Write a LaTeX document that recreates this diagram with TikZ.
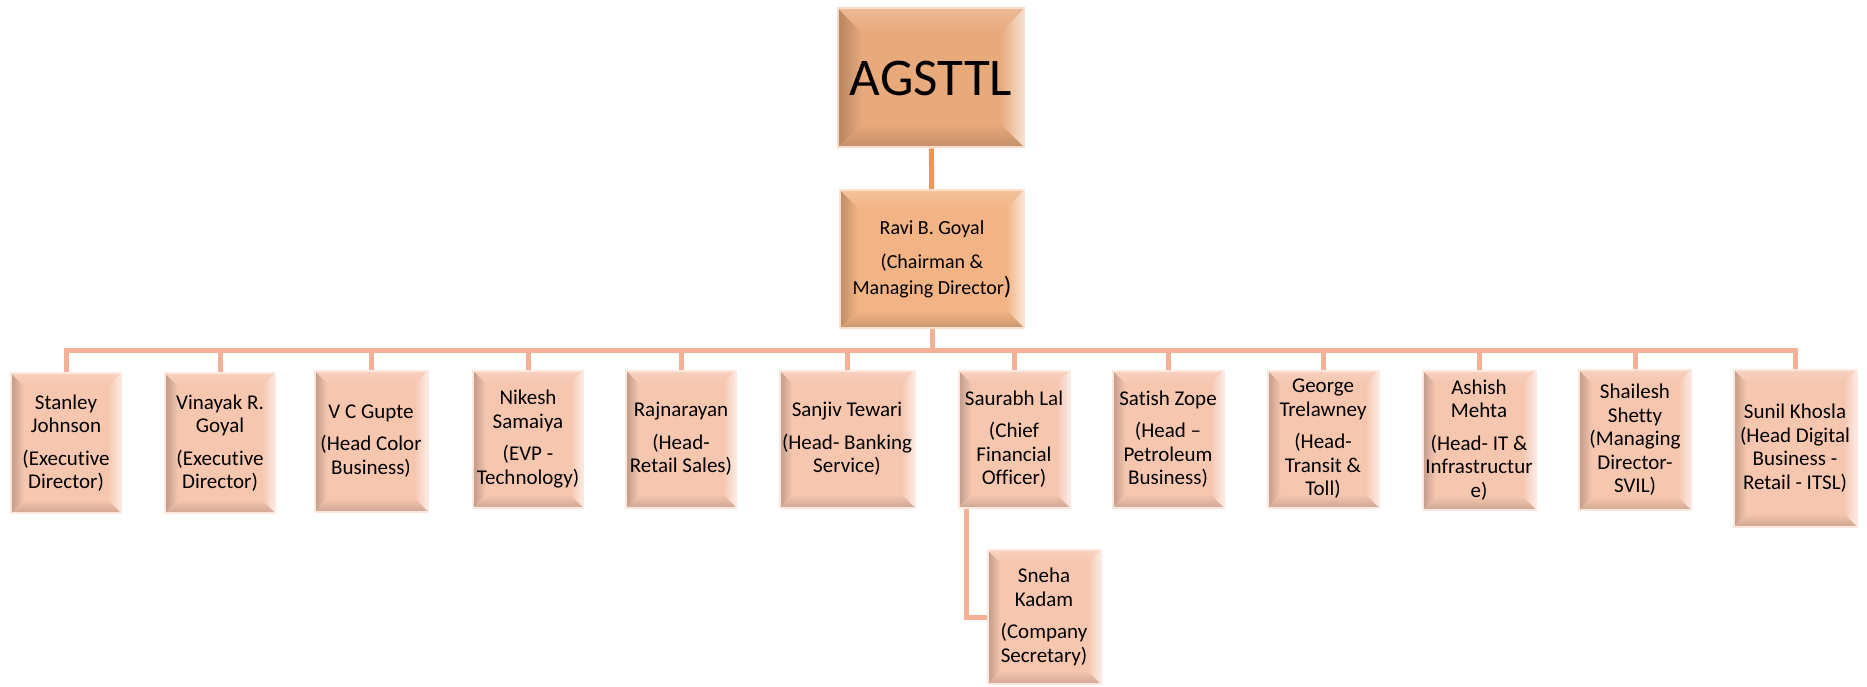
\documentclass[tikz,border=0pt]{standalone}
\usepackage{fontspec}
\setmainfont{Carlito}[Ligatures={TeX,NoCommon}]
\usetikzlibrary{calc}

\definecolor{rootfill}{HTML}{E8A97B}
\definecolor{headfill}{HTML}{F2B484}
\definecolor{kidfill}{HTML}{F6C6AF}
\definecolor{rootlink}{HTML}{F0955A}
\definecolor{buslink}{HTML}{F5B196}

\tikzset{
  bevel/.style 2 args={fill=#1, draw=#1!40!white, line width=2pt, inner sep=0pt, align=center,
    path picture={
      \coordinate (bA) at (path picture bounding box.north west);
      \coordinate (bB) at (path picture bounding box.north east);
      \coordinate (bC) at (path picture bounding box.south east);
      \coordinate (bD) at (path picture bounding box.south west);
      \coordinate (iA) at ($(bA)+(#2,#2)$);
      \coordinate (iB) at ($(bB)+(-#2,#2)$);
      \coordinate (iC) at ($(bC)+(-#2,-#2)$);
      \coordinate (iD) at ($(bD)+(#2,-#2)$);
      \shade[left color=#1!78!black, right color=#1] (bA) -- (iA) -- (iD) -- (bD) -- cycle;
      \shade[top color=#1!80!white, bottom color=#1] (bA) -- (bB) -- (iB) -- (iA) -- cycle;
      \shade[left color=#1, right color=#1!35!white] (bB) -- (bC) -- (iC) -- (iB) -- cycle;
      \shade[top color=#1, bottom color=#1!84!black] (bD) -- (bC) -- (iC) -- (iD) -- cycle;
    }},
  kidbox/.style={bevel={kidfill}{13}, minimum width=110pt, minimum height=137pt,
    font=\fontsize{21}{23.5}\selectfont},
  toplink/.style={draw=rootlink, line width=5pt},
  kidlink/.style={draw=buslink, line width=5pt}
}

\begin{document}
\begin{tikzpicture}[x=1pt, y=-1pt]
  % --- 1. Canvas ---
  \useasboundingbox (0,0) rectangle (1867,687);
  \def\gap{9pt}
  % --- 2. Top of the chart ---
  \node[bevel={rootfill}{24}, minimum width=186pt, minimum height=139pt,
        font=\fontsize{53}{60}\selectfont] (agsttl) at (931,78) {AGSTTL};
  \node[bevel={headfill}{18}, minimum width=184pt, minimum height=138pt,
        font=\fontsize{20}{26}\selectfont] (ravi) at (932,259)
        {Ravi B. Goyal\\[8pt](Chairman \&\\Managing Director{\fontsize{25}{26}\selectfont)}};
  % --- 3. Reports ---
  \node[kidbox, minimum height=140pt] (stanley) at (66,443) {Stanley\\Johnson\\[\gap](Executive\\Director)};
  \node[kidbox, minimum height=140pt] (vinayak) at (220,443) {Vinayak R.\\Goyal\\[\gap](Executive\\Director)};
  \node[kidbox, minimum width=113pt, minimum height=141pt] (gupte) at (371,441) {V C Gupte\\[\gap](Head Color\\Business)};
  \node[kidbox] (nikesh) at (528,439) {Nikesh\\Samaiya\\[\gap](EVP -\\Technology)};
  \node[kidbox] (rajnarayan) at (681,439) {Rajnarayan\\[\gap](Head-\\Retail Sales)};
  \node[kidbox, minimum width=135pt] (sanjiv) at (847,439) {Sanjiv Tewari\\[\gap](Head- Banking\\Service)};
  \node[kidbox, minimum width=111pt] (saurabh) at (1014,439) {Saurabh Lal\\[\gap](Chief\\Financial\\Officer)};
  \node[kidbox, minimum width=111pt] (satish) at (1168,439) {Satish Zope\\[\gap](Head \textendash\\Petroleum\\Business)};
  \node[kidbox, minimum width=111pt] (george) at (1323,439) {George\\Trelawney\\[\gap](Head-\\Transit \&\\Toll)};
  \node[kidbox, minimum width=113pt, minimum height=139pt] (ashish) at (1479,440) {Ashish\\Mehta\\[\gap](Head- IT \&\\Infrastructur\\e)};
  \node[kidbox, minimum width=112pt, minimum height=140pt] (shailesh) at (1635,440) {Shailesh\\Shetty\\(Managing\\Director-\\SVIL)};
  \node[kidbox, minimum width=123pt, minimum height=157pt] (sunil) at (1795,448) {Sunil Khosla\\(Head Digital\\Business -\\Retail - ITSL)};
  \node[kidbox, minimum width=113pt, minimum height=134pt] (sneha) at (1044,617) {Sneha\\Kadam\\[\gap](Company\\Secretary)};
  % --- 4. Connectors ---
  \coordinate (bus) at (932,350);
  \draw[toplink] (agsttl) -- (ravi);
  \draw[kidlink] (ravi) -- (bus);
  \foreach \k in {stanley,vinayak,gupte,nikesh,rajnarayan,sanjiv,saurabh,satish,george,ashish,shailesh,sunil}
    \draw[kidlink] (bus) -| (\k.north);
  \draw[kidlink] ([xshift=9pt]saurabh.south west) |- (sneha.west);
\end{tikzpicture}
\end{document}
